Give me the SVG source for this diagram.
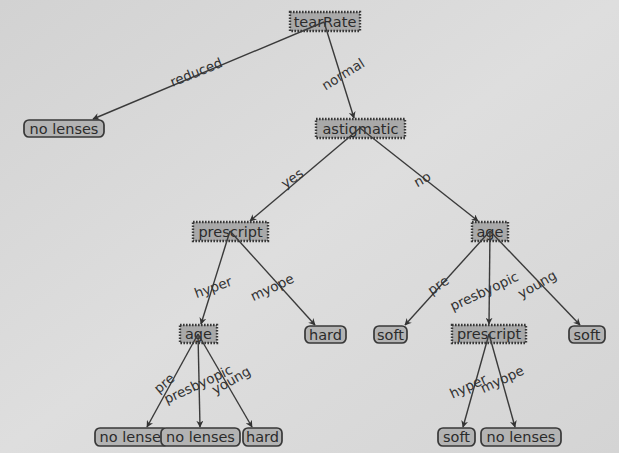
<svg xmlns="http://www.w3.org/2000/svg" width="619" height="453" viewBox="0 0 619 453">
<defs>
<linearGradient id="bg" x1="0" y1="0" x2="1" y2="1">
<stop offset="0" stop-color="#d2d2d2"/>
<stop offset="0.5" stop-color="#dedede"/>
<stop offset="1" stop-color="#d4d4d4"/>
</linearGradient>
<marker id="ah" viewBox="0 0 10 10" refX="9" refY="5" markerWidth="7" markerHeight="7" orient="auto" markerUnits="userSpaceOnUse">
<path d="M0,0 L10,5 L0,10 L3,5 Z" fill="#333"/>
</marker>
<style>
.dec rect{fill:#a9a9a9;stroke:#383838;stroke-width:2.4;stroke-dasharray:1.6 1.4}
.leaf rect{fill:#b3b3b3;stroke:#383838;stroke-width:1.7}
text{font-family:"DejaVu Sans","Liberation Sans",sans-serif;font-size:14.5px;fill:#2b2b2b;text-anchor:middle;dominant-baseline:central}
.lbl{font-size:13.5px;fill:#333}
#connectors line{stroke:#3a3a3a;stroke-width:1.4;marker-end:url(#ah)}
</style>
</defs>
<rect width="619" height="453" fill="url(#bg)"/>
<g id="n-tearRate" class="dec"><rect x="290" y="12" width="70" height="19"/><text x="325" y="21.5">tearRate</text></g>
<g id="n-nolenses1" class="leaf"><rect x="24" y="120" width="80" height="17" rx="5"/><text x="64" y="128.5">no lenses</text></g>
<g id="n-astigmatic" class="dec"><rect x="316" y="119" width="89" height="19"/><text x="360.5" y="128.5">astigmatic</text></g>
<g id="n-prescript1" class="dec"><rect x="193" y="222" width="75" height="19"/><text x="230.5" y="231.5">prescript</text></g>
<g id="n-age1" class="dec"><rect x="472" y="222" width="36" height="19"/><text x="490" y="231.5">age</text></g>
<g id="n-age2" class="dec"><rect x="180" y="325" width="37" height="18"/><text x="198.5" y="334">age</text></g>
<g id="n-hard1" class="leaf"><rect x="305" y="326" width="41" height="17" rx="5"/><text x="325.5" y="334.5">hard</text></g>
<g id="n-soft1" class="leaf"><rect x="374" y="326" width="33" height="17" rx="5"/><text x="390.5" y="334.5">soft</text></g>
<g id="n-prescript2" class="dec"><rect x="452" y="325" width="74" height="18"/><text x="489" y="334">prescript</text></g>
<g id="n-soft2" class="leaf"><rect x="569" y="326" width="36" height="17" rx="5"/><text x="587" y="334.5">soft</text></g>
<g id="n-nolenses2" class="leaf"><rect x="95" y="428" width="73" height="18" rx="5"/><text x="134" y="437">no lenses</text></g>
<g id="n-nolenses3" class="leaf"><rect x="161" y="428" width="79" height="18" rx="5"/><text x="200.5" y="437">no lenses</text></g>
<g id="n-hard2" class="leaf"><rect x="243" y="428" width="39" height="18" rx="5"/><text x="262.5" y="437">hard</text></g>
<g id="n-soft3" class="leaf"><rect x="438" y="428" width="37" height="18" rx="5"/><text x="456.5" y="437">soft</text></g>
<g id="n-nolenses4" class="leaf"><rect x="481" y="428" width="80" height="18" rx="5"/><text x="521" y="437">no lenses</text></g>
<g id="connectors">
<line x1="324" y1="22" x2="93" y2="119"/>
<line x1="324" y1="22" x2="354" y2="118"/>
<line x1="360" y1="128" x2="250" y2="221"/>
<line x1="360" y1="128" x2="478" y2="221"/>
<line x1="230" y1="231" x2="201" y2="324"/>
<line x1="230" y1="231" x2="315" y2="325"/>
<line x1="490" y1="231" x2="405" y2="325"/>
<line x1="490" y1="231" x2="489" y2="324"/>
<line x1="490" y1="231" x2="580" y2="325"/>
<line x1="198" y1="334" x2="147" y2="427"/>
<line x1="198" y1="334" x2="200" y2="427"/>
<line x1="198" y1="334" x2="252" y2="427"/>
<line x1="489" y1="334" x2="463" y2="427"/>
<line x1="489" y1="334" x2="515" y2="427"/>
</g>
<g id="labels">
<text class="lbl" transform="translate(196,72) rotate(-22)">reduced</text>
<text class="lbl" transform="translate(343,74) rotate(-32)">normal</text>
<text class="lbl" transform="translate(292,178) rotate(-35)">yes</text>
<text class="lbl" transform="translate(422,179) rotate(-30)">no</text>
<text class="lbl" transform="translate(213,287) rotate(-20)">hyper</text>
<text class="lbl" transform="translate(272,287) rotate(-25)">myope</text>
<text class="lbl" transform="translate(438,285) rotate(-35)">pre</text>
<text class="lbl" transform="translate(484,291) rotate(-25)">presbyopic</text>
<text class="lbl" transform="translate(537,284) rotate(-30)">young</text>
<text class="lbl" transform="translate(164,383) rotate(-40)">pre</text>
<text class="lbl" transform="translate(198,384) rotate(-25)">presbyopic</text>
<text class="lbl" transform="translate(231,380) rotate(-30)">young</text>
<text class="lbl" transform="translate(468,386) rotate(-25)">hyper</text>
<text class="lbl" transform="translate(502,379) rotate(-25)">myope</text>
</g>
</svg>
